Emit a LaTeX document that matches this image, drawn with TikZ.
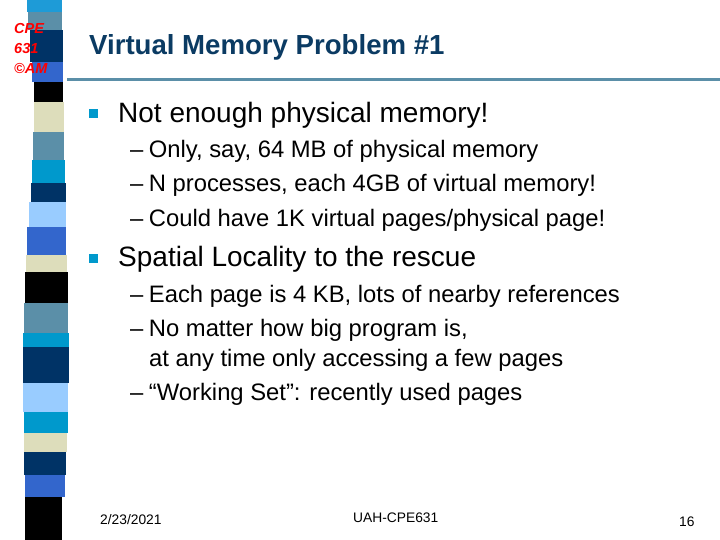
\documentclass[tikz,border=0pt]{standalone}
\usepackage{fontspec}
\setmainfont{Liberation Sans}
\definecolor{cA}{HTML}{1E9BD7}
\definecolor{stl}{HTML}{5B8FA8}
\definecolor{nav}{HTML}{003366}
\definecolor{roy}{HTML}{3366CC}
\definecolor{bei}{HTML}{DDDDBB}
\definecolor{lbl}{HTML}{99CCFF}
\definecolor{cyn}{HTML}{0099CC}
\definecolor{ttl}{HTML}{0B3B63}
\begin{document}
\begin{tikzpicture}[x=1pt,y=-1pt,
  lvl1/.style={anchor=base west,font=\fontsize{28}{32}\selectfont,inner sep=0pt},
  lvl2/.style={anchor=base west,font=\fontsize{23.8}{27}\selectfont,inner sep=0pt},
  foot/.style={anchor=base west,font=\fontsize{13.8}{15}\selectfont,inner sep=0pt},
  bul/.style={fill=cyn,minimum size=9pt,inner sep=0pt}]
\useasboundingbox (0,0) rectangle (720,540);
\fill[white] (0,0) rectangle (720,540);
\foreach \a/\b/\c/\l/\r in {0/12/cA/27/62, 12/30/stl/28/62, 30/62/nav/30/63, 62/82/roy/32/63, 82/102/black/34/63, 102/132/bei/34/64, 132/160/stl/33/64, 160/183/cyn/32/65, 183/202/nav/31/66, 202/227/lbl/29/66, 227/255/roy/27/66, 255/272/bei/26/67, 272/303/black/25/68, 303/333/stl/24/68, 333/347/cyn/23/69, 347/383/nav/23/69, 383/412/lbl/23/68, 412/433/cyn/24/68, 433/452/bei/24/67, 452/475/nav/24/66, 475/497/roy/25/65, 497/540/black/25/62}
  \fill[\c] (\l,\a) rectangle (\r,\b);
\node[anchor=north west,align=left,inner sep=0pt,text=red,font=\fontsize{14.5}{20}\selectfont\bfseries\itshape] (logo) at (14,23) {CPE\\631\\©AM};
\node[anchor=base west,inner sep=0pt,text=ttl,font=\fontsize{27.6}{30}\selectfont\bfseries] (title) at (89,55) {Virtual Memory Problem \#1};
\draw[stl,line width=3pt] (67,80) -- (720,80);
\node[bul] (b1) at (93,114) {};
\node[lvl1] (t1) at (118,123) {Not enough physical memory!};
\node[lvl2] (s1) at (130,158) {–\hspace{5.5pt}Only, say, 64 MB of physical memory};
\node[lvl2] (s2) at (130,192) {–\hspace{5.5pt}N processes, each 4GB of virtual memory!};
\node[lvl2] (s3) at (130,226) {–\hspace{5.5pt}Could have 1K virtual pages/physical page!};
\node[bul] (b2) at (93,258) {};
\node[lvl1] (t2) at (118,266) {Spatial Locality to the rescue};
\node[lvl2] (s4) at (130,302) {–\hspace{5.5pt}Each page is 4 KB, lots of nearby references};
\node[lvl2] (s5) at (130,336) {–\hspace{5.5pt}No matter how big program is,};
\node[lvl2] (s5b) at (149,366) {at any time only accessing a few pages};
\node[lvl2] (s6) at (130,400) {–\hspace{5.5pt}“Working Set”: recently used pages};
\node[foot] (f1) at (100,524) {2/23/2021};
\node[foot] (f2) at (353,522) {UAH-CPE631};
\node[foot] (f3) at (679,526) {16};
\end{tikzpicture}
\end{document}
